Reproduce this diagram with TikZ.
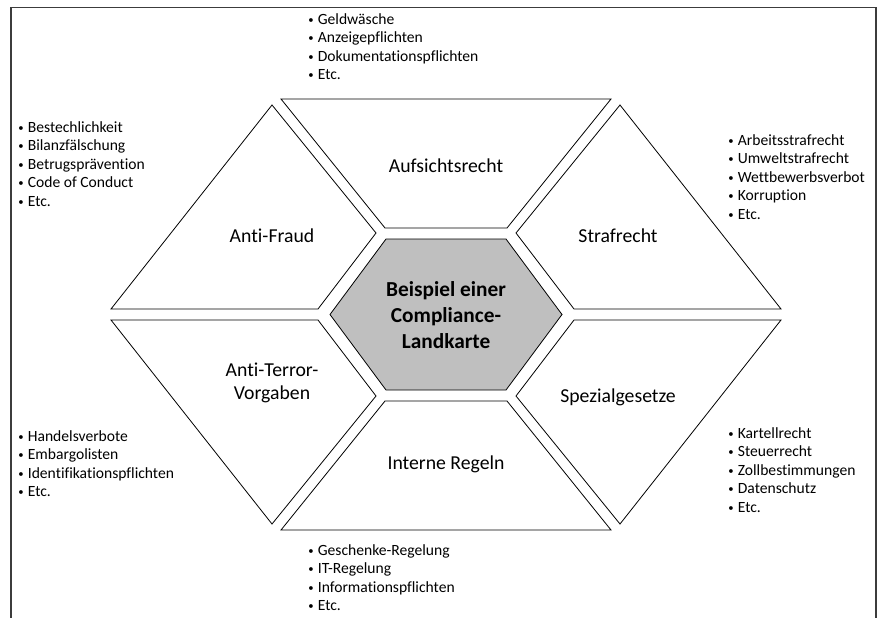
\documentclass[tikz,border=0pt]{standalone}
\usepackage{fontspec}
\setmainfont{Carlito}[Ligatures=NoCommon]
\usepackage{tikz}

\newcommand{\punkt}{\raisebox{0.12ex}{\fontsize{8}{8}\selectfont\textbullet}\hspace{3.2pt}}

\tikzset{
  piece/.style={draw={rgb, 255:red, 0; green, 0; blue, 0 }, line width=0.6pt, fill=white},
  core/.style={draw={rgb, 255:red, 0; green, 0; blue, 0 }, line width=0.6pt, fill={rgb, 255:red, 191; green, 191; blue, 191 }},
  field/.style={inner sep=0.75pt, align=center, font=\fontsize{14.8}{17.2}\selectfont},
  items/.style={anchor=north west, inner sep=0.75pt, align=left, font=\fontsize{11.7}{13.9}\selectfont},
}

\begin{document}
\begin{tikzpicture}[x=0.75pt,y=0.75pt,yscale=-1,xscale=1]
        \useasboundingbox (0,0) rectangle (877,617);

        %Frame
        \draw [line width=1.4pt, color={rgb, 255:red, 60; green, 60; blue, 60 }] (11,640) -- (11,7.5) -- (876,7.5) -- (876,640) ;

        %Shape: Polygon [Aufsichtsrecht]
        \draw [piece] (281,99) -- (611,99) -- (507,228) -- (385,228) -- cycle ;
        %Shape: Polygon [Anti-Fraud]
        \draw [piece] (272,105) -- (376,233) -- (318,309) -- (111,309) -- cycle ;
        %Shape: Polygon [Strafrecht]
        \draw [piece] (620,105) -- (516,233) -- (574,309) -- (781,309) -- cycle ;
        %Shape: Polygon [Anti-Terror]
        \draw [piece] (272,524) -- (376,396) -- (318,320) -- (111,320) -- cycle ;
        %Shape: Polygon [Spezialgesetze]
        \draw [piece] (620,524) -- (516,396) -- (574,320) -- (781,320) -- cycle ;
        %Shape: Polygon [Interne Regeln]
        \draw [piece] (281,530) -- (611,530) -- (507,401) -- (385,401) -- cycle ;
        %Shape: Polygon [Mitte]
        \draw [core] (386,239) -- (506,239) -- (562,314.5) -- (506,390) -- (386,390) -- (330,314.5) -- cycle ;

        % Text Node
        \node [field] (aufsicht) at (446,166) {Aufsichtsrecht};
        % Text Node
        \node [field] (fraud) at (272,236) {Anti-Fraud};
        % Text Node
        \node [field] (straf) at (618,236) {Strafrecht};
        % Text Node
        \node [field] (terror) at (272,383) {Anti-Terror-\\Vorgaben};
        % Text Node
        \node [field] (spezial) at (618,397) {Spezialgesetze};
        % Text Node
        \node [field] (intern) at (446,464) {Interne Regeln};
        % Text Node
        \node [inner sep=0.75pt, align=center, font=\fontsize{16}{19.2}\selectfont\bfseries] (karte) at (446,315) {Beispiel einer\\Compliance-\\Landkarte};

        % Text Node
        \node [items] (oben) at (307,12) {\punkt Geldwäsche\\\punkt Anzeigepflichten\\\punkt Dokumentationspflichten\\\punkt Etc.};
        % Text Node
        \node [items] (linksoben) at (17,120) {\punkt Bestechlichkeit\\\punkt Bilanzfälschung\\\punkt Betrugsprävention\\\punkt Code of Conduct\\\punkt Etc.};
        % Text Node
        \node [items] (rechtsoben) at (727,133) {\punkt Arbeitsstrafrecht\\\punkt Umweltstrafrecht\\\punkt Wettbewerbsverbot\\\punkt Korruption\\\punkt Etc.};
        % Text Node
        \node [items] (linksunten) at (17,429) {\punkt Handelsverbote\\\punkt Embargolisten\\\punkt Identifikationspflichten\\\punkt Etc.};
        % Text Node
        \node [items] (rechtsunten) at (727,426) {\punkt Kartellrecht\\\punkt Steuerrecht\\\punkt Zollbestimmungen\\\punkt Datenschutz\\\punkt Etc.};
        % Text Node
        \node [items] (unten) at (307,543) {\punkt Geschenke-Regelung\\\punkt IT-Regelung\\\punkt Informationspflichten\\\punkt Etc.};

\end{tikzpicture}
\end{document}
